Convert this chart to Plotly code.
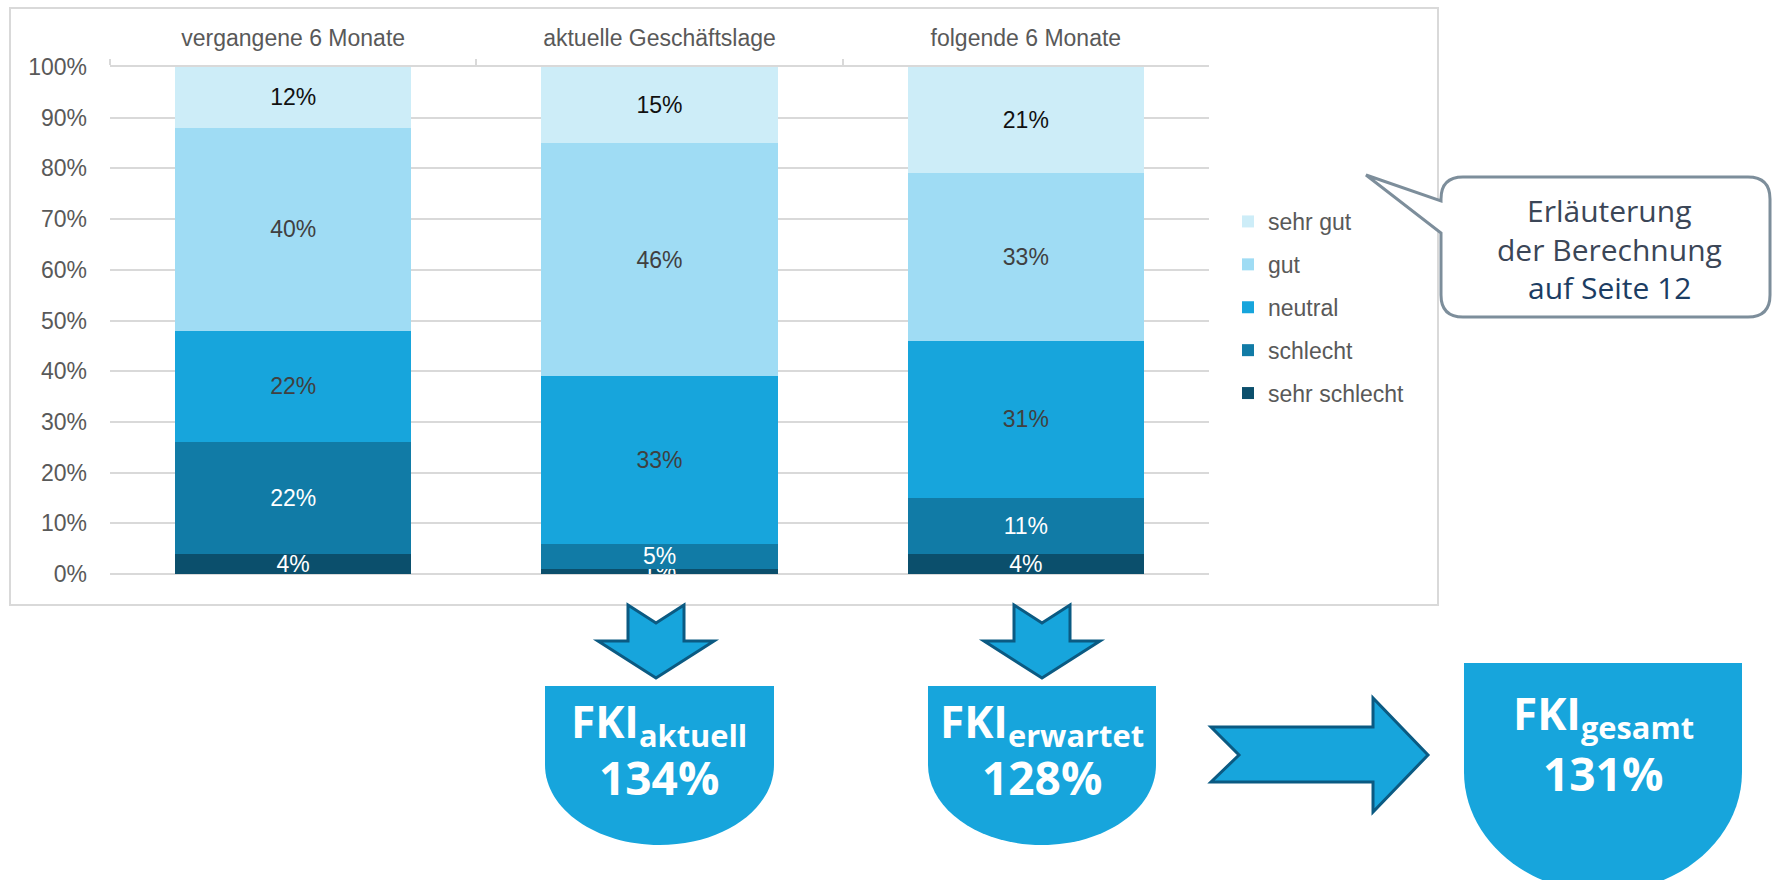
"""FKI business climate chart: stacked bars plus result shields."""

import plotly.graph_objects as go

categories = ["vergangene 6 Monate", "aktuelle Geschäftslage", "folgende 6 Monate"]
series_names = ["sehr schlecht", "schlecht", "neutral", "gut", "sehr gut"]
sehr_schlecht = [4, 1, 4]
schlecht = [22, 5, 11]
neutral = [22, 33, 31]
gut = [40, 46, 33]
sehr_gut = [12, 15, 21]
series_values = [sehr_schlecht, schlecht, neutral, gut, sehr_gut]

fki_labels = ["aktuell", "erwartet", "gesamt"]
fki_values = [134, 128, 131]

colors = ["#0b4f6c", "#117ba6", "#17a5dc", "#9fdcf4", "#cdedf8"]
text_colors = ["#ffffff", "#ffffff", "#404040", "#404040", "#111111"]

W, H = 1774, 880
FONT = "Liberation Sans, Arial, sans-serif"
GRID = "#d9d9d9"
BLUE = "#17a5dc"
DARK = "#0b5a82"


def px(x, y):
    return f"{x / W:.5f},{1 - y / H:.5f}"


def poly(points):
    return "M " + " L ".join(px(x, y) for x, y in points) + " Z"


def shield(x0, x1, ytop, ystr, ybot):
    k = 0.5523
    cx, rx, ry = (x0 + x1) / 2, (x1 - x0) / 2, ybot - ystr
    return (
        f"M {px(x0, ytop)} L {px(x1, ytop)} L {px(x1, ystr)} "
        f"C {px(x1, ystr + k * ry)} {px(cx + k * rx, ybot)} {px(cx, ybot)} "
        f"C {px(cx - k * rx, ybot)} {px(x0, ystr + k * ry)} {px(x0, ystr)} Z"
    )


def down_arrow(cx):
    return poly([
        (cx - 28, 605), (cx, 623), (cx + 28, 605), (cx + 28, 641),
        (cx + 58, 641), (cx, 678), (cx - 58, 641), (cx - 28, 641),
    ])


def callout(x0, x1, y0, y1, r):
    return (
        f"M {px(x0 + r, y0)} L {px(x1 - r, y0)} Q {px(x1, y0)} {px(x1, y0 + r)} "
        f"L {px(x1, y1 - r)} Q {px(x1, y1)} {px(x1 - r, y1)} "
        f"L {px(x0 + r, y1)} Q {px(x0, y1)} {px(x0, y1 - r)} "
        f"L {px(x0, 233)} L {px(1366, 175)} L {px(x0, 201)} "
        f"L {px(x0, y0 + r)} Q {px(x0, y0)} {px(x0 + r, y0)} Z"
    )


fig = go.Figure()
for i, (name, vals, col, tcol) in enumerate(zip(series_names, series_values, colors, text_colors)):
    fig.add_trace(
        go.Bar(
            x=categories,
            y=[v / 100 for v in vals],
            name=name,
            legendgroup=name,
            legendrank=len(series_names) - i,
            marker=dict(color=col, line=dict(width=0)),
            text=[f"{v}%" for v in vals],
            textposition="inside",
            insidetextanchor="middle",
            textangle=0,
            textfont=dict(family=FONT, size=23, color=tcol),
            hoverinfo="skip",
        )
    )

shapes = [
    # chart frame
    dict(type="rect", xref="paper", yref="paper",
         x0=10 / W, x1=1438 / W, y0=1 - 605 / H, y1=1 - 8 / H,
         line=dict(color=GRID, width=2), fillcolor="rgba(0,0,0,0)", layer="below"),
    dict(type="path", xref="paper", yref="paper", path=callout(1441, 1770, 177, 317, 22),
         fillcolor="white", line=dict(color="#7d8e9b", width=3)),
    dict(type="path", xref="paper", yref="paper", path=down_arrow(656),
         fillcolor=BLUE, line=dict(color=DARK, width=3)),
    dict(type="path", xref="paper", yref="paper", path=down_arrow(1042),
         fillcolor=BLUE, line=dict(color=DARK, width=3)),
    dict(type="path", xref="paper", yref="paper",
         path=poly([(1211, 727), (1373, 727), (1373, 698), (1428, 755),
                    (1373, 812), (1373, 782), (1211, 782), (1239, 755)]),
         fillcolor=BLUE, line=dict(color=DARK, width=3)),
    dict(type="path", xref="paper", yref="paper", path=shield(545, 774, 686, 765, 845),
         fillcolor=BLUE, line=dict(width=0)),
    dict(type="path", xref="paper", yref="paper", path=shield(928, 1156, 686, 765, 845),
         fillcolor=BLUE, line=dict(width=0)),
    dict(type="path", xref="paper", yref="paper", path=shield(1464, 1742, 663, 772, 892),
         fillcolor=BLUE, line=dict(width=0)),
]

annotations = []
callout_lines = [("Erläuterung", "#3b4657", 210), ("der Berechnung", "#3b4657", 249),
                 ("auf Seite 12", "#1c3d63", 287)]
for txt, col, y in callout_lines:
    annotations.append(dict(text=txt, x=1609 / W, y=1 - y / H, xref="paper", yref="paper",
                            showarrow=False, xanchor="center", yanchor="middle",
                            font=dict(family="Open Sans, sans-serif", size=30, color=col)))

shield_pos = [(659, 723, 777), (1042, 723, 777), (1603, 715, 773)]
for lab, val, (cx, y1, y2) in zip(fki_labels, fki_values, shield_pos):
    annotations.append(dict(text=f"<b>FKI<sub>{lab}</sub></b>", x=cx / W, y=1 - y1 / H,
                            xref="paper", yref="paper", showarrow=False,
                            xanchor="center", yanchor="middle",
                            font=dict(family="Open Sans, sans-serif", size=44, color="white")))
    annotations.append(dict(text=f"<b>{val}%</b>", x=cx / W, y=1 - y2 / H,
                            xref="paper", yref="paper", showarrow=False,
                            xanchor="center", yanchor="middle",
                            font=dict(family="Open Sans, sans-serif", size=46, color="white")))

fig.update_layout(
    width=W,
    height=H,
    margin=dict(l=0, r=0, t=0, b=0, autoexpand=False),
    paper_bgcolor="white",
    plot_bgcolor="white",
    barmode="stack",
    bargap=0.355,
    uniformtext=dict(minsize=23, mode="show"),
    font=dict(family=FONT, size=23, color="#595959"),
    legend=dict(
        x=1228 / W, y=1 - 200 / H, xanchor="left", yanchor="top",
        traceorder="grouped", tracegroupgap=10,
        font=dict(family=FONT, size=23, color="#595959"),
        bgcolor="rgba(0,0,0,0)",
    ),
    shapes=shapes,
    annotations=annotations,
)
fig.update_xaxes(
    domain=[110 / W, 1209 / W],
    side="top",
    automargin=False,
    showline=True, linecolor=GRID, linewidth=2,
    ticks="outside", tickson="boundaries", ticklen=6, tickcolor=GRID, tickwidth=2,
    ticklabelstandoff=10,
    showgrid=False,
    tickfont=dict(family=FONT, size=23, color="#595959"),
)
fig.update_yaxes(
    domain=[1 - 574 / H, 1 - 67 / H],
    range=[0, 1],
    dtick=0.1,
    tickformat=".0%",
    automargin=False,
    showgrid=True, gridcolor=GRID, gridwidth=2,
    zeroline=True, zerolinecolor=GRID, zerolinewidth=2,
    ticklabelstandoff=22,
    tickfont=dict(family=FONT, size=23, color="#595959"),
)

fig.write_html("out.html", config={"displayModeBar": False},
               post_script="document.body.style.margin='0';")
